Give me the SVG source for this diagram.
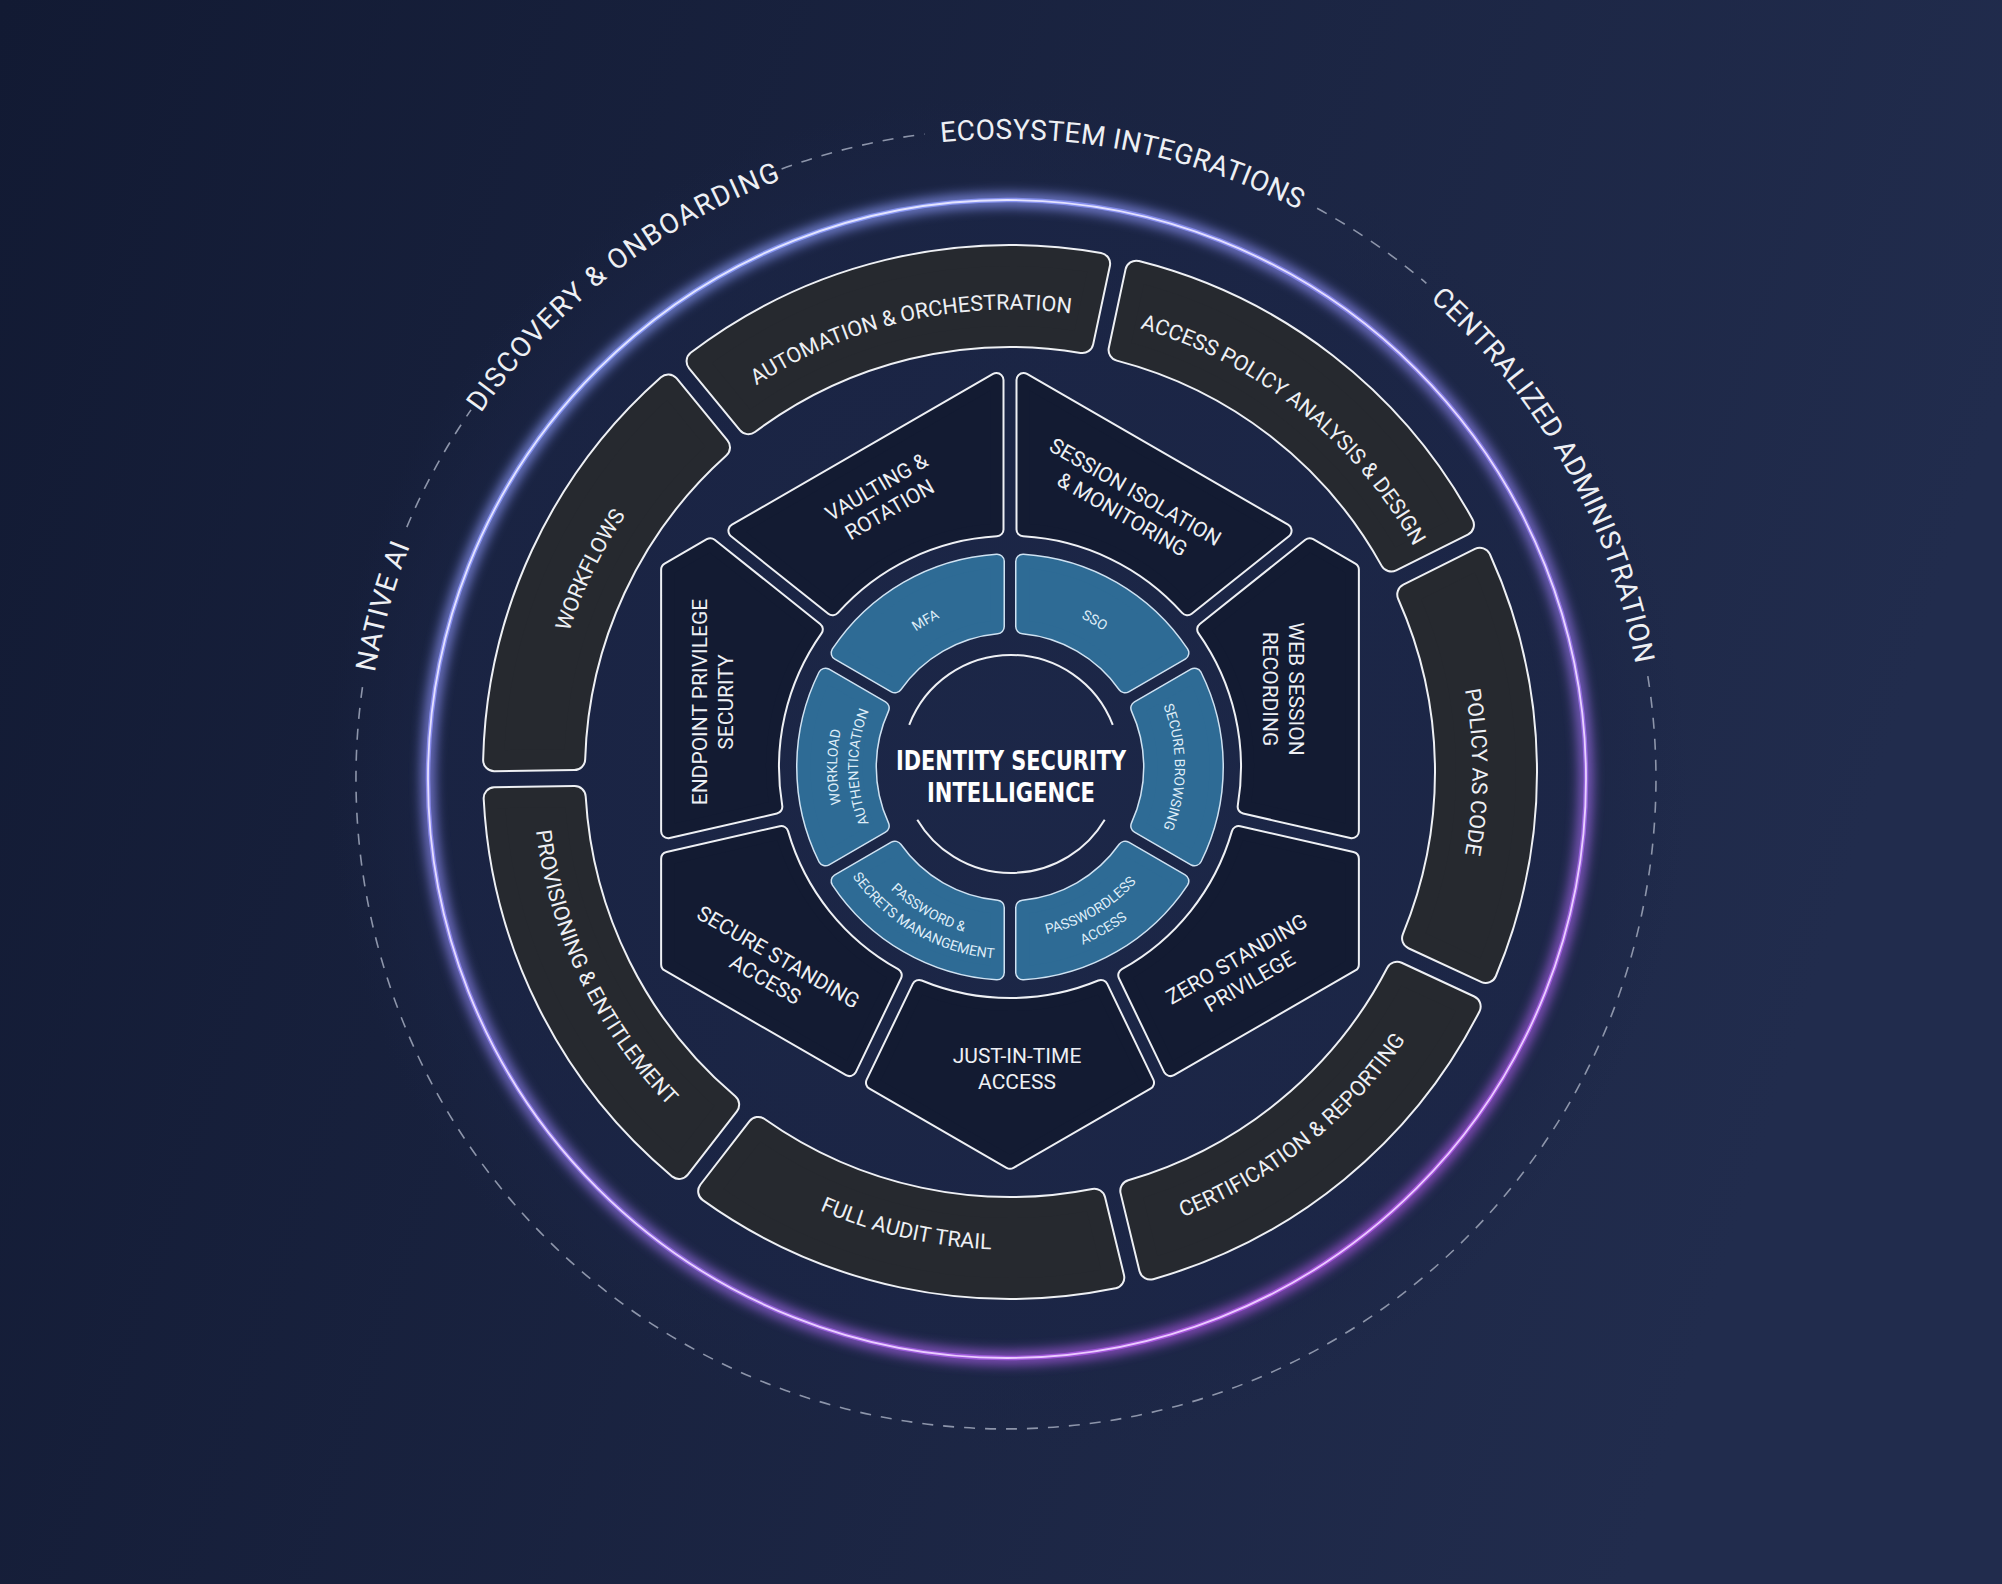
<svg xmlns="http://www.w3.org/2000/svg" width="2002" height="1584" viewBox="0 0 2002 1584">
<defs>
<linearGradient id="bg" x1="0" y1="0" x2="1" y2="0.25">
<stop offset="0" stop-color="#121a33"/>
<stop offset="1" stop-color="#212c4d"/>
</linearGradient>
<radialGradient id="halo" cx="1008" cy="775" r="680" gradientUnits="userSpaceOnUse">
<stop offset="0" stop-color="#1c2748" stop-opacity="0.9"/>
<stop offset="0.82" stop-color="#1b2546" stop-opacity="0.7"/>
<stop offset="1" stop-color="#1b2546" stop-opacity="0"/>
</radialGradient>
<linearGradient id="glowG" x1="0.2" y1="0" x2="0.8" y2="1">
<stop offset="0" stop-color="#8da2ff"/>
<stop offset="0.5" stop-color="#8f80ee"/>
<stop offset="1" stop-color="#b04fe0"/>
</linearGradient>
<linearGradient id="coreG" x1="0.2" y1="0" x2="0.8" y2="1">
<stop offset="0" stop-color="#e2e7ff"/>
<stop offset="1" stop-color="#ecc8ff"/>
</linearGradient>
<filter id="blur" x="-10%" y="-10%" width="120%" height="120%"><feGaussianBlur stdDeviation="6"/></filter>
<path id="segOP" d="M -171.87,-400.70 L -206.61,-472.83 A 516 516 0 0 1 206.61,-472.83 L 171.87,-400.70 A 436 436 0 0 0 -171.87,-400.70 Z"/>
<path id="segBP" d="M -58.94,-128.09 L -91.54,-184.55 A 206 206 0 0 1 91.54,-184.55 L 58.94,-128.09 A 141 141 0 0 0 -58.94,-128.09 Z"/>
<path id="pSession" d="M 13.5,-237.62 L 13.5,-386.96 L 274.57,-236.23 L 177.36,-158.71 A 238 238 0 0 0 13.5,-237.62 Z"/>
<path id="pVault" d="M -13.5,-237.62 L -13.5,-386.96 L -274.57,-236.23 L -177.36,-158.71 A 238 238 0 0 1 -13.5,-237.62 Z"/>
<path id="pWeb" d="M 194.20,-137.60 L 299.70,-221.73 L 341.87,-197.38 L 341.87,64.18 L 234.67,39.71 A 238 238 0 0 0 194.20,-137.60 Z"/>
<path id="pEndpoint" d="M -194.20,-137.60 L -299.70,-221.73 L -341.87,-197.38 L -341.87,64.18 L -234.67,39.71 A 238 238 0 0 1 -194.20,-137.60 Z"/>
<path id="pZero" d="M 228.66,66.04 L 341.87,91.87 L 341.87,197.38 L 160.47,302.11 L 115.26,208.23 A 238 238 0 0 0 228.66,66.04 Z"/>
<path id="pSecure" d="M -228.66,66.04 L -341.87,91.87 L -341.87,197.38 L -160.47,302.11 L -115.26,208.23 A 238 238 0 0 1 -228.66,66.04 Z"/>
<path id="pJit" d="M 90.94,219.95 L 137.03,315.65 L 0,394.76 L -137.03,315.65 L -90.94,219.95 A 238 238 0 0 0 90.94,219.95 Z"/>
<path id="tpOT" d="M -326.96,-326.96 A 462.4 462.4 0 0 1 326.96,-326.96"/>
<path id="tpOB" d="M -337.71,337.71 A 477.6 477.6 0 0 0 337.71,337.71"/>
<path id="tpB1" d="M -106.06,-126.40 A 165 165 0 0 1 106.06,-126.40"/>
<path id="tpB1o" d="M -111.20,-132.53 A 173 173 0 0 1 111.20,-132.53"/>
<path id="tpB1i" d="M -97.70,-116.44 A 152 152 0 0 1 97.70,-116.44"/>
<path id="tpBbi" d="M -109.92,130.99 A 171 171 0 0 0 109.92,130.99"/>
<path id="tpBbo" d="M -123.42,147.08 A 192 192 0 0 0 123.42,147.08"/>
<path id="tpL" d="M -452.55,-452.55 A 640 640 0 0 1 452.55,-452.55"/>
</defs>
<style>
.so-b{fill:#26292f;stroke:#eef0f4;stroke-width:24;stroke-linejoin:round}
.so-f{fill:#26292f;stroke:#26292f;stroke-width:20;stroke-linejoin:round}
.mp-b{fill:#131b32;stroke:#eef0f4;stroke-width:16;stroke-linejoin:round}
.mp-f{fill:#131b32;stroke:#131b32;stroke-width:12;stroke-linejoin:round}
.sb-b{fill:#2e6b95;stroke:#cfe2f2;stroke-width:16;stroke-linejoin:round}
.sb-f{fill:#2e6b95;stroke:#2e6b95;stroke-width:13;stroke-linejoin:round}
text{font-family:Roboto,"Liberation Sans",sans-serif;fill:#eef0f4;text-anchor:middle}
.t-out{font-size:21.5px}
.t-mid{font-size:21px}
.t-blue{font-size:14px;fill:#deedf8}
.t-lab{font-size:28px}
.t-core{font-family:"DejaVu Sans Condensed","DejaVu Sans",sans-serif;font-stretch:condensed;font-weight:bold;font-size:27px;fill:#ffffff}
.dash{fill:none;stroke:#8d95aa;stroke-width:1.6;stroke-dasharray:11 10}
</style>
<rect width="2002" height="1584" fill="url(#bg)"/>
<rect width="2002" height="1584" fill="url(#halo)"/>

<g id="rings">
<path class="dash" d="M 1647.8,676.2 A 650 650 0 1 1 362.6,686.3"/>
<path class="dash" d="M 406.8,527.1 A 650 650 0 0 1 471.0,409.9"/>
<path class="dash" d="M 781.6,169.0 A 650 650 0 0 1 924.5,134.1"/>
<path class="dash" d="M 1317.1,208.3 A 650 650 0 0 1 1426.4,283.3"/>
<circle cx="1007" cy="779" r="579" fill="none" stroke="url(#glowG)" stroke-width="14" filter="url(#blur)" opacity="0.75"/>
<circle cx="1007" cy="779" r="579" fill="none" stroke="url(#glowG)" stroke-width="4.5" opacity="0.85"/>
<circle cx="1007" cy="779" r="579" fill="none" stroke="url(#coreG)" stroke-width="1.8"/>
</g>

<g id="outer-labels" transform="translate(1006 779)">
<g id="l-ecosystem" transform="rotate(10.7)"><text class="t-lab" letter-spacing="0.4"><textPath href="#tpL" startOffset="50%">ECOSYSTEM INTEGRATIONS</textPath></text></g>
<g id="l-centralized" transform="rotate(60.6)"><text class="t-lab" letter-spacing="0.5"><textPath href="#tpL" startOffset="50%">CENTRALIZED ADMINISTRATION</textPath></text></g>
<g id="l-discovery" transform="rotate(-37.8)"><text class="t-lab" letter-spacing="1.5"><textPath href="#tpL" startOffset="50%">DISCOVERY &amp; ONBOARDING</textPath></text></g>
<g id="l-nativeai" transform="rotate(-74.5)"><text class="t-lab" letter-spacing="0.5"><textPath href="#tpL" startOffset="50%">NATIVE AI</textPath></text></g>
</g>

<g id="outer-ring" transform="translate(1010 772)">
<g id="n-automation"><g transform="rotate(-13.657)"><use href="#segOP" class="so-b"/><use href="#segOP" class="so-f"/></g><g transform="rotate(-12.857)"><text class="t-out"><textPath href="#tpOT" startOffset="50%">AUTOMATION &amp; ORCHESTRATION</textPath></text></g></g>
<g id="n-access-policy"><g transform="rotate(37.771)"><use href="#segOP" class="so-b"/><use href="#segOP" class="so-f"/></g><g transform="rotate(38.571)"><text class="t-out"><textPath href="#tpOT" startOffset="50%">ACCESS POLICY ANALYSIS &amp; DESIGN</textPath></text></g></g>
<g id="n-policy-code"><g transform="rotate(89.2)"><use href="#segOP" class="so-b"/><use href="#segOP" class="so-f"/></g><g transform="rotate(90)"><text class="t-out"><textPath href="#tpOT" startOffset="50%">POLICY AS CODE</textPath></text></g></g>
<g id="n-certification"><g transform="rotate(140.629)"><use href="#segOP" class="so-b"/><use href="#segOP" class="so-f"/></g><g transform="rotate(-38.571)"><text class="t-out"><textPath href="#tpOB" startOffset="50%">CERTIFICATION &amp; REPORTING</textPath></text></g></g>
<g id="n-audit"><g transform="rotate(192.057)"><use href="#segOP" class="so-b"/><use href="#segOP" class="so-f"/></g><g transform="rotate(12.857)"><text class="t-out"><textPath href="#tpOB" startOffset="50%">FULL AUDIT TRAIL</textPath></text></g></g>
<g id="n-provisioning"><g transform="rotate(243.486)"><use href="#segOP" class="so-b"/><use href="#segOP" class="so-f"/></g><g transform="rotate(64.286)"><text class="t-out"><textPath href="#tpOB" startOffset="50%">PROVISIONING &amp; ENTITLEMENT</textPath></text></g></g>
<g id="n-workflows"><g transform="rotate(-65.086)"><use href="#segOP" class="so-b"/><use href="#segOP" class="so-f"/></g><g transform="rotate(-64.286)"><text class="t-out"><textPath href="#tpOT" startOffset="50%">WORKFLOWS</textPath></text></g></g>
</g>

<g id="middle-ring">
<g id="n-vaulting"><g transform="translate(1010 767)"><use href="#pVault" class="mp-b"/><use href="#pVault" class="mp-f"/></g>
<text class="t-mid" transform="translate(883 498) rotate(-30)"><tspan x="0" y="-5.5">VAULTING &amp;</tspan><tspan x="0" y="20.5">ROTATION</tspan></text></g>
<g id="n-session"><g transform="translate(1010 767)"><use href="#pSession" class="mp-b"/><use href="#pSession" class="mp-f"/></g>
<text class="t-mid" transform="translate(1129 503) rotate(30)"><tspan x="0" y="-5.5">SESSION ISOLATION</tspan><tspan x="0" y="20.5">&amp; MONITORING</tspan></text></g>
<g id="n-web"><g transform="translate(1010 767)"><use href="#pWeb" class="mp-b"/><use href="#pWeb" class="mp-f"/></g>
<text class="t-mid" transform="translate(1283 689) rotate(90)"><tspan x="0" y="-5.5">WEB SESSION</tspan><tspan x="0" y="20.5">RECORDING</tspan></text></g>
<g id="n-zero"><g transform="translate(1010 767)"><use href="#pZero" class="mp-b"/><use href="#pZero" class="mp-f"/></g>
<text class="t-mid" transform="translate(1243 970) rotate(-30)"><tspan x="0" y="-5.5">ZERO STANDING</tspan><tspan x="0" y="20.5">PRIVILEGE</tspan></text></g>
<g id="n-jit"><g transform="translate(1010 767)"><use href="#pJit" class="mp-b"/><use href="#pJit" class="mp-f"/></g>
<text class="t-mid" transform="translate(1017 1068)"><tspan x="0" y="-5.5">JUST-IN-TIME</tspan><tspan x="0" y="20.5">ACCESS</tspan></text></g>
<g id="n-secure-standing"><g transform="translate(1010 767)"><use href="#pSecure" class="mp-b"/><use href="#pSecure" class="mp-f"/></g>
<text class="t-mid" transform="translate(772 968) rotate(30)"><tspan x="0" y="-5.5">SECURE STANDING</tspan><tspan x="0" y="20.5">ACCESS</tspan></text></g>
<g id="n-endpoint"><g transform="translate(1010 767)"><use href="#pEndpoint" class="mp-b"/><use href="#pEndpoint" class="mp-f"/></g>
<text class="t-mid" transform="translate(712 702) rotate(-90)"><tspan x="0" y="-5.5">ENDPOINT PRIVILEGE</tspan><tspan x="0" y="20.5">SECURITY</tspan></text></g>
</g>

<g id="inner-ring" transform="translate(1010 767)">
<g id="n-mfa" transform="rotate(-30)"><use href="#segBP" class="sb-b"/><use href="#segBP" class="sb-f"/><text class="t-blue"><textPath href="#tpB1" startOffset="50%">MFA</textPath></text></g>
<g id="n-sso" transform="rotate(30)"><use href="#segBP" class="sb-b"/><use href="#segBP" class="sb-f"/><text class="t-blue"><textPath href="#tpB1" startOffset="50%">SSO</textPath></text></g>
<g id="n-secure-browsing" transform="rotate(90)"><use href="#segBP" class="sb-b"/><use href="#segBP" class="sb-f"/><text class="t-blue"><textPath href="#tpB1" startOffset="50%">SECURE BROWSING</textPath></text></g>
<g id="n-passwordless"><g transform="rotate(150)"><use href="#segBP" class="sb-b"/><use href="#segBP" class="sb-f"/></g><g transform="rotate(-30)"><text class="t-blue"><textPath href="#tpBbi" startOffset="50%">PASSWORDLESS</textPath></text><text class="t-blue"><textPath href="#tpBbo" startOffset="50%">ACCESS</textPath></text></g></g>
<g id="n-password-secrets"><g transform="rotate(210)"><use href="#segBP" class="sb-b"/><use href="#segBP" class="sb-f"/></g><g transform="rotate(30)"><text class="t-blue"><textPath href="#tpBbi" startOffset="50%">PASSWORD &amp;</textPath></text><text class="t-blue"><textPath href="#tpBbo" startOffset="50%">SECRETS MANANGEMENT</textPath></text></g></g>
<g id="n-workload" transform="rotate(-90)"><use href="#segBP" class="sb-b"/><use href="#segBP" class="sb-f"/><text class="t-blue"><textPath href="#tpB1o" startOffset="50%">WORKLOAD</textPath></text><text class="t-blue"><textPath href="#tpB1i" startOffset="50%">AUTHENTICATION</textPath></text></g>
</g>

<g id="n-core">
<path d="M 909.24,724.94 A 109 109 0 0 1 1112.76,724.94" fill="none" stroke="#eef0f4" stroke-width="2"/>
<path d="M 1104.71,819.65 A 109 109 0 0 1 917.29,819.65" fill="none" stroke="#eef0f4" stroke-width="2"/>
<text class="t-core" x="1011" y="770" textLength="230" lengthAdjust="spacingAndGlyphs">IDENTITY SECURITY</text>
<text class="t-core" x="1011" y="802" textLength="168" lengthAdjust="spacingAndGlyphs">INTELLIGENCE</text>
</g>
</svg>
